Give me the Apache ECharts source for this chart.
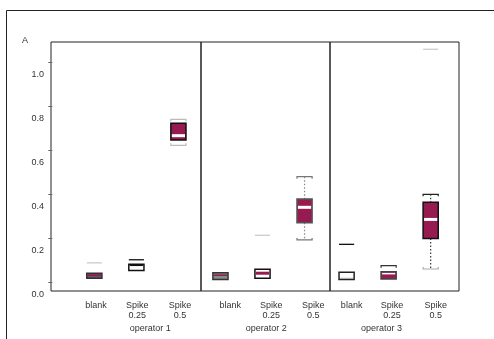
<!DOCTYPE html>
<html>
<head>
<meta charset="utf-8">
<script src="https://cdn.jsdelivr.net/npm/echarts@6/dist/echarts.min.js"></script>
<style>
  html, body { margin: 0; padding: 0; background: #fff; }
  #chart { width: 494px; height: 339px; }
</style>
</head>
<body>
<div id="chart"></div>
<script>
// Box positions along the x scale (one per group)
const boxX = [1, 2, 3, 4, 5, 6, 7, 8, 9];
// Five-number summaries per group
const whiskerLow  = [0.023, 0.055, 0.623, 0.015, 0.020, 0.194, 0.012, 0.017, 0.062];
const quart1      = [0.020, 0.055, 0.647, 0.015, 0.020, 0.272, 0.015, 0.017, 0.201];
const medians     = [0.034, 0.080, 0.667, 0.034, 0.043, 0.342, 0.020, 0.041, 0.287];
const quart3      = [0.043, 0.084, 0.723, 0.045, 0.061, 0.380, 0.047, 0.050, 0.365];
const whiskerHigh = [0.043, 0.084, 0.741, 0.045, 0.061, 0.481, 0.047, 0.077, 0.401];
// Isolated points drawn as short dashes: [position, value]
const extremes = [[1, 0.090], [2, 0.104], [5, 0.215], [7, 0.174], [9, 1.059]];

// Category labels and where they sit on the x scale
const groupLabels = ['blank', 'Spike\n0.25', 'Spike\n0.5', 'blank', 'Spike\n0.25', 'Spike\n0.5', 'blank', 'Spike\n0.25', 'Spike\n0.5'];
const groupLabelX = [1.04, 2.02, 3.04, 4.23, 5.21, 6.21, 7.12, 8.08, 9.12];
const operatorLabels = ['operator 1', 'operator 2', 'operator 3'];
const operatorLabelX = [2.33, 5.09, 7.83];
// Panel separators on the x scale
const panelBreaks = [3.54, 6.612];
// Y ticks
const yTicks = [0, 0.2, 0.4, 0.6, 0.8, 1.0];

const MAROON = '#971a50';
// Per-box drawing look
const boxLook = [
  { fill: '#6a5662', border: '#3a2c34', median: '#8d1c4f', medianW: 1.5 },
  { fill: '#ffffff', border: '#111111', median: '#111111', medianW: 2 },
  { fill: MAROON,    border: '#111111', median: '#ffffff', medianW: 3, whisker: null, cap: '#bbbbbb' },
  { fill: '#8a8a8a', border: '#333333', median: '#8d1c4f', medianW: 1.5 },
  { fill: '#ffffff', border: '#111111', median: MAROON,    medianW: 3 },
  { fill: MAROON,    border: '#555555', median: '#ffffff', medianW: 3, whisker: '#888888', cap: '#777777' },
  { fill: '#ffffff', border: '#222222', median: '#aaaaaa', medianW: 1 },
  { fill: MAROON,    border: '#444444', median: '#ffffff', medianW: 1.5, cap: '#333333', capLowOff: true },
  { fill: MAROON,    border: '#111111', median: '#ffffff', medianW: 3, whisker: '#333333', cap: '#222222', capLow: '#aaaaaa' }
];
const extremeColor = ['#cccccc', '#111111', '#cccccc', '#111111', '#cccccc'];

const boxData = boxX.map((x, i) => [x, whiskerLow[i], quart1[i], medians[i], quart3[i], whiskerHigh[i]]);

function capShape(cx, y, half, color, down) {
  const d = down ? 2 : -2;
  return {
    type: 'polyline',
    shape: { points: [[cx - half, y + d], [cx - half, y], [cx + half, y], [cx + half, y + d]] },
    style: { stroke: color, lineWidth: 1.2, fill: null }
  };
}

function renderBox(params, api) {
  const i = params.dataIndex;
  const look = boxLook[i];
  const x = api.value(0);
  const pLo = api.coord([x, api.value(1)]);
  const pQ1 = api.coord([x, api.value(2)]);
  const pMd = api.coord([x, api.value(3)]);
  const pQ3 = api.coord([x, api.value(4)]);
  const pHi = api.coord([x, api.value(5)]);
  const half = api.size([0.18, 0])[0];
  const cx = pMd[0];
  const kids = [];
  if (look.whisker) {
    kids.push({ type: 'line', shape: { x1: cx, y1: pHi[1], x2: cx, y2: pQ3[1] },
      style: { stroke: look.whisker, lineWidth: 1.2, lineDash: [1.5, 2] } });
    kids.push({ type: 'line', shape: { x1: cx, y1: pQ1[1], x2: cx, y2: pLo[1] },
      style: { stroke: look.whisker, lineWidth: 1.2, lineDash: [1.5, 2] } });
  }
  if (look.cap) {
    kids.push(capShape(cx, pHi[1], half, look.cap, true));
    if (!look.capLowOff) kids.push(capShape(cx, pLo[1], half, look.capLow || look.cap, false));
  }
  kids.push({ type: 'rect',
    shape: { x: cx - half, y: pQ3[1], width: half * 2, height: Math.max(pQ1[1] - pQ3[1], 1) },
    style: { fill: look.fill, stroke: look.border, lineWidth: 1.5 } });
  kids.push({ type: 'line', shape: { x1: cx - half + 1, y1: pMd[1], x2: cx + half - 1, y2: pMd[1] },
    style: { stroke: look.median, lineWidth: look.medianW } });
  return { type: 'group', children: kids };
}

function renderExtreme(params, api) {
  const p = api.coord([api.value(0), api.value(1)]);
  const half = api.size([0.18, 0])[0];
  return { type: 'line', shape: { x1: p[0] - half, y1: p[1], x2: p[0] + half, y2: p[1] },
    style: { stroke: extremeColor[params.dataIndex], lineWidth: 1.3 } };
}

function nearestLabel(v, positions, labels) {
  let best = 0;
  positions.forEach((p, k) => { if (Math.abs(p - v) < Math.abs(positions[best] - v)) best = k; });
  return labels[best];
}

const FONT = 'Liberation Sans, Arial, sans-serif';
const chart = echarts.init(document.getElementById('chart'), null, { renderer: 'canvas' });
chart.setOption({
  animation: false,
  backgroundColor: '#ffffff',
  title: { text: 'A', left: 17, top: 31, textStyle: { fontSize: 9, fontWeight: 'normal', color: '#333', fontFamily: FONT } },
  graphic: [{
    type: 'polyline', silent: true,
    shape: { points: [[6.5, 339], [6.5, 10.5], [494, 10.5]] },
    style: { stroke: '#222', lineWidth: 1, fill: null }
  }],
  grid: { left: 51, top: 42, right: 35, bottom: 48, show: true, borderColor: '#222', borderWidth: 1, backgroundColor: 'transparent' },
  xAxis: [{
    type: 'value', min: -0.031, max: 9.674,
    axisLine: { show: false }, axisTick: { show: false }, splitLine: { show: false },
    axisLabel: {
      customValues: groupLabelX,
      formatter: v => nearestLabel(v, groupLabelX, groupLabels),
      fontSize: 9, lineHeight: 10.5, color: '#333', fontFamily: FONT,
      verticalAlign: 'top', margin: 9
    }
  }, {
    type: 'value', min: -0.031, max: 9.674, position: 'bottom', offset: 0,
    axisLine: { show: false }, axisTick: { show: false }, splitLine: { show: false },
    axisLabel: {
      customValues: operatorLabelX,
      formatter: v => nearestLabel(v, operatorLabelX, operatorLabels),
      fontSize: 9, lineHeight: 10, color: '#333', fontFamily: FONT,
      verticalAlign: 'top', margin: 33
    }
  }],
  yAxis: {
    type: 'value', min: -0.0377, max: 1.092,
    axisLine: { show: false }, splitLine: { show: false },
    axisTick: { show: true, length: 4, customValues: yTicks, lineStyle: { color: '#666', width: 1 } },
    axisLabel: {
      customValues: yTicks, formatter: v => v.toFixed(1),
      fontSize: 9, color: '#333', fontFamily: FONT,
      margin: 7, verticalAlign: 'top', lineHeight: 24
    }
  },
  series: [{
    type: 'custom', name: 'boxes', renderItem: renderBox, data: boxData,
    encode: { x: 0, y: [1, 2, 3, 4, 5] }, silent: true
  }, {
    type: 'custom', name: 'extremes', renderItem: renderExtreme, data: extremes,
    encode: { x: 0, y: 1 }, silent: true,
    markLine: {
      silent: true, symbol: ['none', 'none'], label: { show: false },
      lineStyle: { color: '#222', width: 1.5, type: 'solid' },
      data: panelBreaks.map(v => ({ xAxis: v }))
    }
  }]
});
</script>
</body>
</html>
